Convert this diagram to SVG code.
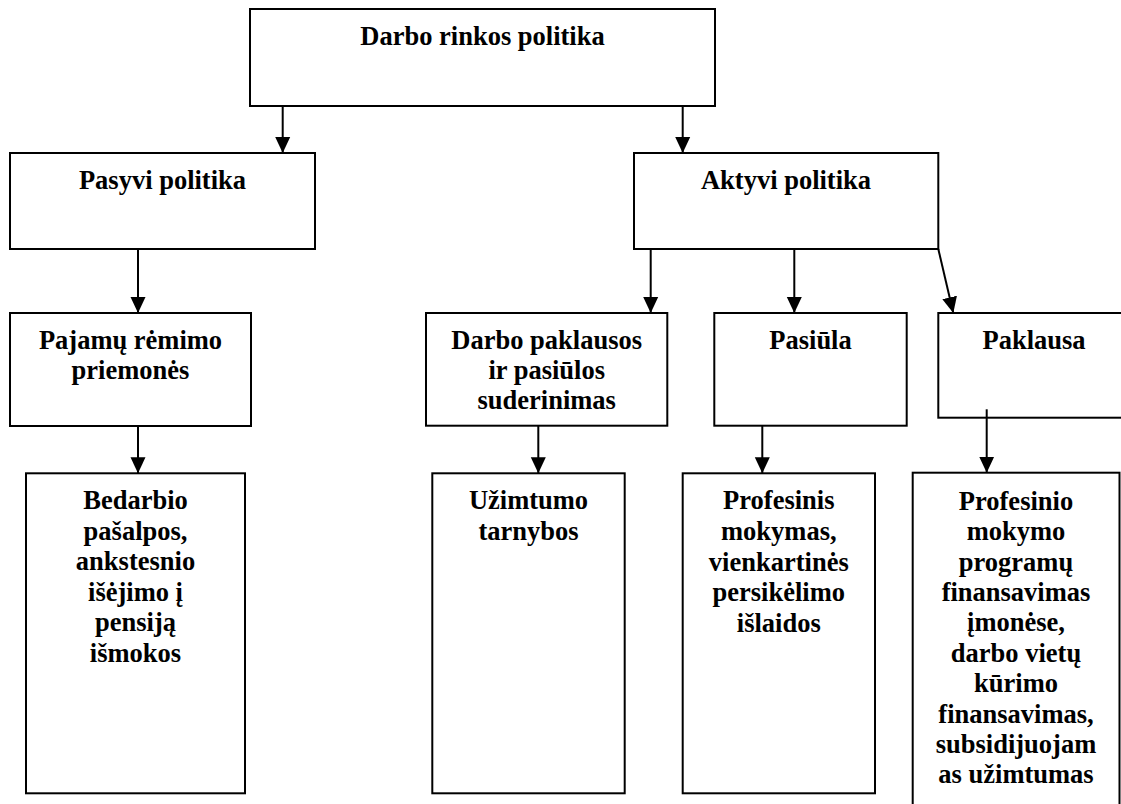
<svg xmlns="http://www.w3.org/2000/svg" width="1121" height="804" viewBox="0 0 1121 804">
<style>
.box{fill:#fff;stroke:#000;stroke-width:2}
.t{font-family:"Liberation Serif","Times New Roman",serif;font-weight:bold;font-size:26.5px;text-anchor:middle;fill:#000}
.c{stroke:#000;stroke-width:2;fill:none;marker-end:url(#ah)}
</style>
<defs>
<marker id="ah" viewBox="0 0 16 16" refX="16" refY="8" markerWidth="16" markerHeight="16" markerUnits="userSpaceOnUse" orient="auto">
<path d="M0,0.5 L16,8 L0,15.5 z" fill="#000"/>
</marker>
</defs>
<rect width="1121" height="804" fill="#fff"/>
<g id="n-darbo-rinkos">
<rect class="box" x="250" y="9" width="465" height="97"/>
<text class="t" x="482.5" y="45">Darbo rinkos politika</text>
</g>
<g id="n-pasyvi">
<rect class="box" x="10" y="153" width="305" height="96"/>
<text class="t" x="162.5" y="189">Pasyvi politika</text>
</g>
<g id="n-aktyvi">
<rect class="box" x="634" y="153" width="304.3" height="96"/>
<text class="t" x="786" y="189">Aktyvi politika</text>
</g>
<g id="n-pajamu">
<rect class="box" x="10" y="313" width="241" height="113"/>
<text class="t" x="130.5" y="349">Pajamų rėmimo<tspan x="130.5" y="379">priemonės</tspan></text>
</g>
<g id="n-suderinimas">
<rect class="box" x="426" y="313" width="241.3" height="112.7"/>
<text class="t" x="546.7" y="349">Darbo paklausos<tspan x="546.7" y="379">ir pasiūlos</tspan><tspan x="546.7" y="409">suderinimas</tspan></text>
</g>
<g id="n-pasiula">
<rect class="box" x="714.3" y="313" width="192.4" height="112.7"/>
<text class="t" x="810.5" y="348.5">Pasiūla</text>
</g>
<g id="n-paklausa">
<rect class="box" x="938.3" y="313" width="192" height="104.7"/>
<text class="t" x="1034" y="348.5">Paklausa</text>
</g>
<g id="n-bedarbio">
<rect class="box" x="26" y="473.3" width="219" height="320"/>
<text class="t" x="135.5" y="509">Bedarbio<tspan x="135.5" y="539.6">pašalpos,</tspan><tspan x="135.5" y="570.2">ankstesnio</tspan><tspan x="135.5" y="600.8">išėjimo į</tspan><tspan x="135.5" y="631.4">pensiją</tspan><tspan x="135.5" y="662">išmokos</tspan></text>
</g>
<g id="n-uzimtumo">
<rect class="box" x="432.3" y="473.3" width="192.4" height="320"/>
<text class="t" x="528.5" y="509.3">Užimtumo<tspan x="528.5" y="539.6">tarnybos</tspan></text>
</g>
<g id="n-profesinis">
<rect class="box" x="682.7" y="473.3" width="192.3" height="320"/>
<text class="t" x="778.8" y="509.3">Profesinis<tspan x="778.8" y="539.9">mokymas,</tspan><tspan x="778.8" y="570.5">vienkartinės</tspan><tspan x="778.8" y="601.1">persikėlimo</tspan><tspan x="778.8" y="631.7">išlaidos</tspan></text>
</g>
<g id="n-finansavimas">
<rect class="box" x="912.7" y="472.7" width="206.8" height="360"/>
<text class="t" x="1016" y="509.7">Profesinio<tspan x="1016" y="540.1">mokymo</tspan><tspan x="1016" y="570.5">programų</tspan><tspan x="1016" y="600.9">finansavimas</tspan><tspan x="1016" y="631.3">įmonėse,</tspan><tspan x="1016" y="661.7">darbo vietų</tspan><tspan x="1016" y="692.1">kūrimo</tspan><tspan x="1016" y="722.5">finansavimas,</tspan><tspan x="1016" y="752.9">subsidijuojam</tspan><tspan x="1016" y="783.3">as užimtumas</tspan></text>
</g>
<g id="connectors">
<line class="c" x1="282.7" y1="106" x2="282.7" y2="153"/>
<line class="c" x1="682.7" y1="106" x2="682.7" y2="153"/>
<line class="c" x1="138" y1="249" x2="138" y2="313"/>
<line class="c" x1="138" y1="426" x2="138" y2="473.3"/>
<line class="c" x1="650.7" y1="249" x2="650.7" y2="313"/>
<line class="c" x1="794.3" y1="249" x2="794.3" y2="313"/>
<line class="c" x1="938.3" y1="249" x2="953.3" y2="313"/>
<line class="c" x1="538.3" y1="425.7" x2="538.3" y2="473.3"/>
<line class="c" x1="762.3" y1="425.7" x2="762.3" y2="473.3"/>
<line class="c" x1="986.7" y1="409.3" x2="986.7" y2="472.7"/>
</g>
</svg>
